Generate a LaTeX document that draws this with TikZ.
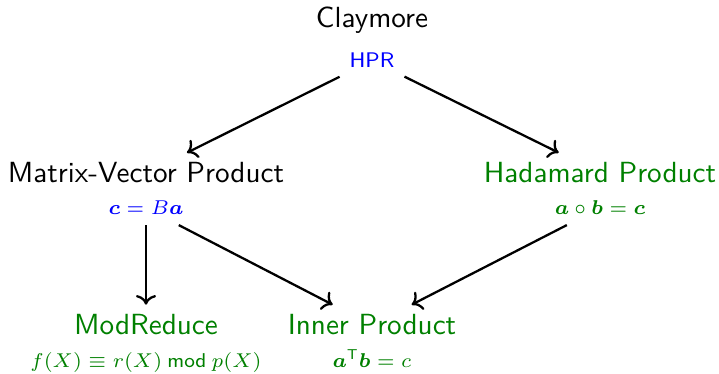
\documentclass[tikz,border=0pt]{standalone}
\usepackage{amsmath,amssymb}
\usepackage{tikz}
\usetikzlibrary{arrows.meta,positioning}
\renewcommand{\familydefault}{\sfdefault}

\begin{document}
\begin{tikzpicture}[
	x=0.35pt, y=0.35pt,
	task/.style={
		anchor=base,
		font=\fontsize{10.2}{12}\selectfont\sffamily},
	algo/.style={
		anchor=base,
		font=\fontsize{7.4}{9}\selectfont},
	done/.style={text=green!50!black},
	myarrow/.style={->, thick}
	]
	\useasboundingbox (0,0) rectangle (719,374);

	% top level
	\node[task] (clay) at (372,346) {Claymore};
	\node[algo,text=blue] (hpr) at (372,306) {HPR};

	% second row
	\node[task] (mvp) at (146,191) {Matrix-Vector Product};
	\node[algo,text=blue] (mvpeq) at (146,159) {$\boldsymbol{c} = B\boldsymbol{a}$};
	\node[task,done] (had) at (600,191) {Hadamard Product};
	\node[algo,done] (hadeq) at (600,159) {$\boldsymbol{a} \circ \boldsymbol{b} = \boldsymbol{c}$};

	% bottom row
	\node[task,done] (mod) at (146,39) {ModReduce};
	\node[algo,done] (modeq) at (146,6) {$f(X) \equiv r(X) \mathbin{\mathsf{mod}} p(X)$};
	\node[task,done] (inner) at (372,39) {Inner Product};
	\node[algo,done] (innereq) at (372,6) {$\boldsymbol{a}^{\mathsf{T}}\boldsymbol{b} = c$};

	\foreach \i/\j in {% from/to
		hpr/mvp,
		hpr/had,
		mvpeq/mod,
		mvpeq/inner,
		hadeq/inner}
		\draw[myarrow] (\i) -- (\j);
\end{tikzpicture}
\end{document}
